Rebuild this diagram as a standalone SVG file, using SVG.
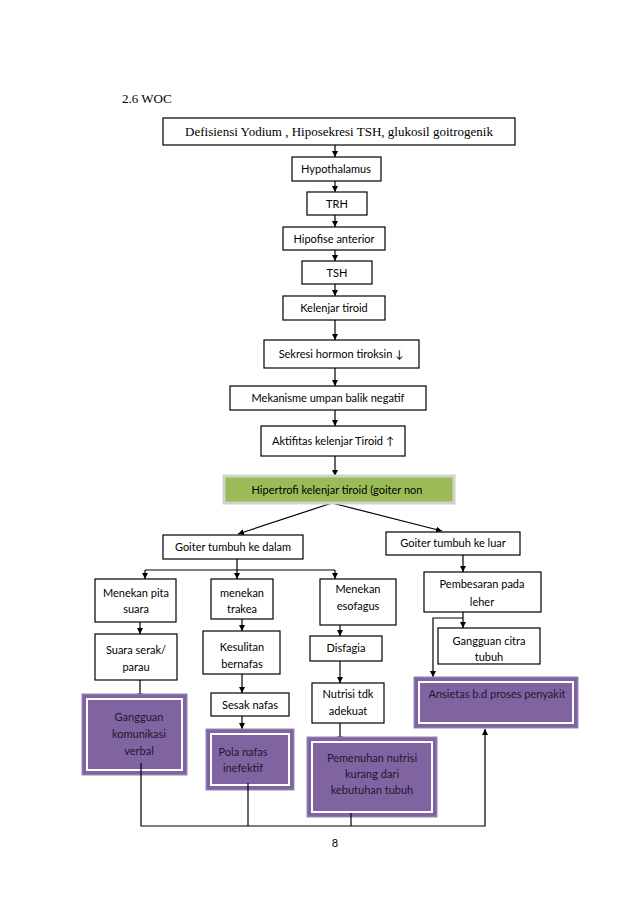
<svg xmlns="http://www.w3.org/2000/svg" width="638" height="903" viewBox="0 0 638 903">
<style>
.b{fill:#fff;stroke:#000;stroke-width:1.2}
.t{font-family:Lato,"Liberation Sans",sans-serif;font-size:11px;fill:#000;text-anchor:middle}
.s{font-family:"Liberation Serif",serif;fill:#000}
.p{fill:#8064a2;stroke:#9a86b8;stroke-width:1}
.pi{fill:none;stroke:#fff;stroke-width:2}
.pt{font-family:Lato,"Liberation Sans",sans-serif;font-size:11px;fill:#1c1830;text-anchor:middle}
.c{fill:none;stroke:#000;stroke-width:1.2}
</style>
<defs>
<marker id="a" viewBox="0 0 10 10" refX="10" refY="5" markerWidth="6" markerHeight="6" orient="auto" markerUnits="userSpaceOnUse"><path d="M0,0L10,5L0,10z" fill="#000"/></marker>
</defs>
<rect width="638" height="903" fill="#fff"/>
<text class="s" x="122" y="103" font-size="13">2.6 WOC</text>

<g id="connectors">
<path class="c" d="M335,145V157" marker-end="url(#a)"/>
<path class="c" d="M335,181V192" marker-end="url(#a)"/>
<path class="c" d="M335,215V227" marker-end="url(#a)"/>
<path class="c" d="M335,250V261" marker-end="url(#a)"/>
<path class="c" d="M335,284V296" marker-end="url(#a)"/>
<path class="c" d="M335,320V340" marker-end="url(#a)"/>
<path class="c" d="M335,368V386" marker-end="url(#a)"/>
<path class="c" d="M335,410V426" marker-end="url(#a)"/>
<path class="c" d="M335,456V476" marker-end="url(#a)"/>
<path class="c" d="M332,503L238,534" marker-end="url(#a)"/>
<path class="c" d="M332,503L442,531" marker-end="url(#a)"/>
<path class="c" d="M237,559V570M145,570H335"/>
<path class="c" d="M145,570V579" marker-end="url(#a)"/>
<path class="c" d="M237,570V579" marker-end="url(#a)"/>
<path class="c" d="M335,570V579" marker-end="url(#a)"/>
<path class="c" d="M463,555V572" marker-end="url(#a)"/>
<path class="c" d="M140,622V634" marker-end="url(#a)"/>
<path class="c" d="M242,619V631" marker-end="url(#a)"/>
<path class="c" d="M340,625V636" marker-end="url(#a)"/>
<path class="c" d="M463,612V628" marker-end="url(#a)"/>
<path class="c" d="M463,618H433V677" marker-end="url(#a)"/>
<path class="c" d="M242,674V693" marker-end="url(#a)"/>
<path class="c" d="M340,661V683" marker-end="url(#a)"/>
<path class="c" d="M140,680V694M137,694H143"/>
<path class="c" d="M242,716V729" marker-end="url(#a)"/>
<path class="c" d="M340,723V737M337,737H343"/>
</g>

<g id="n1"><rect class="b" x="163" y="118" width="352" height="27"/><text class="s" x="339" y="136" font-size="13" text-anchor="middle">Defisiensi Yodium , Hiposekresi TSH, glukosil goitrogenik</text></g>
<g id="n2"><rect class="b" x="292" y="157" width="89" height="24"/><text class="t" x="336" y="173">Hypothalamus</text></g>
<g id="n3"><rect class="b" x="307" y="192" width="60" height="23"/><text class="t" x="337" y="208">TRH</text></g>
<g id="n4"><rect class="b" x="283" y="227" width="102" height="23"/><text class="t" x="334" y="243">Hipofise anterior</text></g>
<g id="n5"><rect class="b" x="302" y="261" width="70" height="23"/><text class="t" x="337" y="277">TSH</text></g>
<g id="n6"><rect class="b" x="283" y="296" width="102" height="24"/><text class="t" x="334" y="312">Kelenjar tiroid</text></g>
<g id="n7"><rect class="b" x="264" y="340" width="155" height="28"/><text class="t" x="341" y="358">Sekresi hormon tiroksin ↓</text></g>
<g id="n8"><rect class="b" x="230" y="386" width="196" height="24"/><text class="t" x="328" y="402">Mekanisme umpan balik negatif</text></g>
<g id="n9"><rect class="b" x="261" y="426" width="144" height="30"/><text class="t" x="333" y="445">Aktifitas kelenjar Tiroid ↑</text></g>
<g id="n10"><rect x="224" y="476" width="230" height="27" fill="#9bbb59" stroke="#cfd3c8" stroke-width="3"/><text class="t" x="337" y="494">Hipertrofi kelenjar tiroid (goiter non</text></g>
<g id="n11"><rect class="b" x="163" y="535" width="140" height="24"/><text class="t" x="233" y="551">Goiter tumbuh ke dalam</text></g>
<g id="n12"><rect class="b" x="386" y="532" width="134" height="23"/><text class="t" x="453" y="547">Goiter tumbuh ke luar</text></g>
<g id="n13"><rect class="b" x="95" y="579" width="81" height="43"/><text class="t" x="136" y="597">Menekan pita</text><text class="t" x="136" y="613">suara</text></g>
<g id="n14"><rect class="b" x="211" y="579" width="62" height="40"/><text class="t" x="242" y="597">menekan</text><text class="t" x="242" y="613">trakea</text></g>
<g id="n15"><rect class="b" x="320" y="579" width="76" height="46"/><text class="t" x="358" y="593">Menekan</text><text class="t" x="358" y="610">esofagus</text></g>
<g id="n16"><rect class="b" x="424" y="572" width="117" height="40"/><text class="t" x="482" y="588">Pembesaran pada</text><text class="t" x="482" y="606">leher</text></g>
<g id="n17"><rect class="b" x="95" y="634" width="82" height="46"/><text class="t" x="136" y="654">Suara serak/</text><text class="t" x="136" y="671">parau</text></g>
<g id="n18"><rect class="b" x="203" y="631" width="77" height="43"/><text class="t" x="242" y="651">Kesulitan</text><text class="t" x="242" y="668">bernafas</text></g>
<g id="n19"><rect class="b" x="310" y="636" width="72" height="25"/><text class="t" x="346" y="652">Disfagia</text></g>
<g id="n20"><rect class="b" x="438" y="628" width="102" height="36"/><text class="t" x="489" y="645">Gangguan citra</text><text class="t" x="489" y="661">tubuh</text></g>
<g id="n21"><rect class="b" x="211" y="693" width="78" height="23"/><text class="t" x="250" y="709">Sesak nafas</text></g>
<g id="n22"><rect class="b" x="312" y="683" width="72" height="40"/><text class="t" x="348" y="698">Nutrisi tdk</text><text class="t" x="348" y="715">adekuat</text></g>
<g id="n23"><rect class="p" x="82" y="694" width="105" height="81"/><rect class="pi" x="87" y="699" width="95" height="71"/><text class="pt" x="139" y="721">Gangguan</text><text class="pt" x="139" y="738">komunikasi</text><text class="pt" x="139" y="755">verbal</text></g>
<g id="n24"><rect class="p" x="206" y="729" width="88" height="61"/><rect class="pi" x="211" y="734" width="78" height="51"/><text class="pt" x="243" y="756">Pola nafas</text><text class="pt" x="243" y="772">inefektif</text></g>
<g id="n25"><rect class="p" x="307" y="737" width="130" height="80"/><rect class="pi" x="312" y="742" width="120" height="70"/><text class="pt" x="372" y="762">Pemenuhan nutrisi</text><text class="pt" x="372" y="778">kurang dari</text><text class="pt" x="372" y="794">kebutuhan tubuh</text></g>
<g id="n26"><rect class="p" x="414" y="677" width="164" height="51"/><rect class="pi" x="419" y="682" width="154" height="41"/><text class="pt" x="497" y="698">Ansietas b.d proses penyakit</text></g>

<g id="bottom-connectors">
<path class="c" d="M141,763V826H485V729" marker-end="url(#a)"/>
<path class="c" d="M248,783V826"/>
<path class="c" d="M351,813V826"/>
</g>
<text x="335" y="847" font-family="Lato,'Liberation Sans',sans-serif" font-size="11" text-anchor="middle" fill="#000">8</text>
</svg>
